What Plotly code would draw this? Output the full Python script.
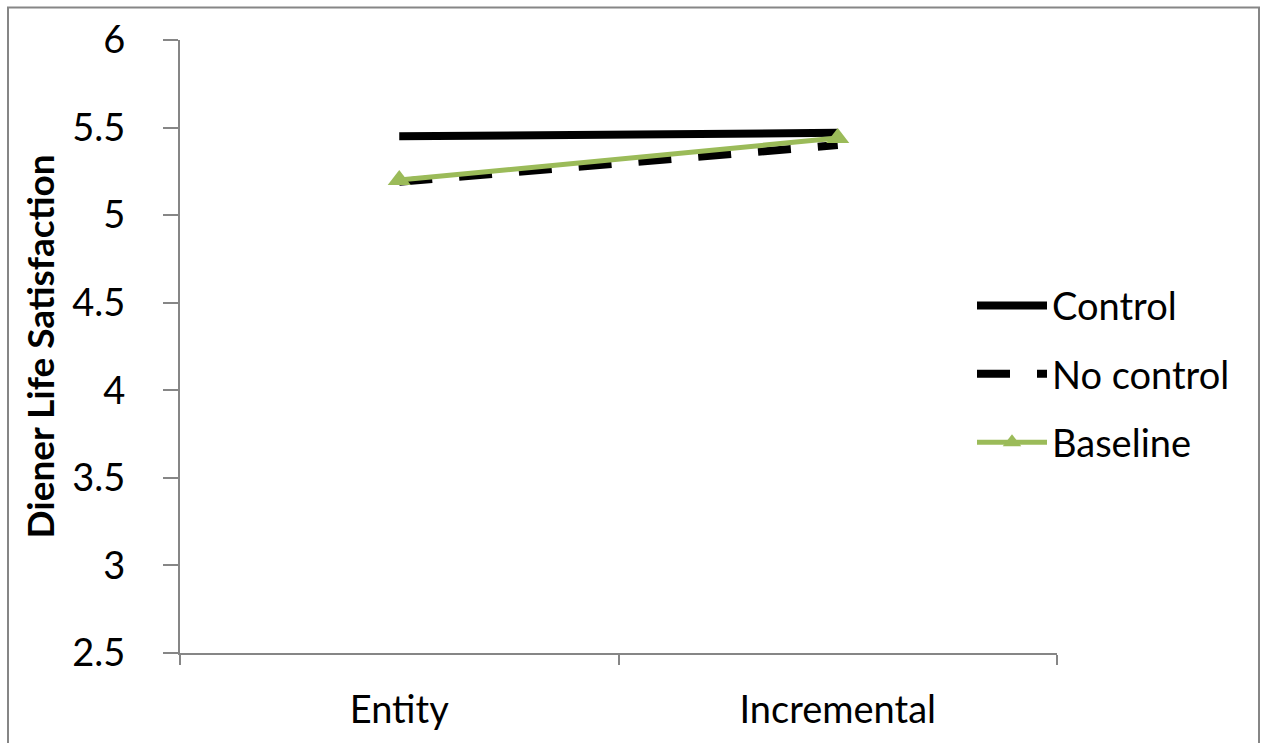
import plotly.graph_objects as go

# Mindset groups on the x axis
categories = ["Entity", "Incremental"]

# Mean Diener life-satisfaction per condition
control = [5.45, 5.47]
no_control = [5.19, 5.40]
baseline = [5.20, 5.44]

y_ticks = [2.5, 3, 3.5, 4, 4.5, 5, 5.5, 6]
y_tick_text = ["2.5", "3", "3.5", "4", "4.5", "5", "5.5", "6"]

W, H = 1262, 743
ML, MR, MT, MB = 180, 205, 40, 80
FONT = "Lato, Open Sans, sans-serif"
AXIS_GREY = "#868686"

fig = go.Figure()
fig.add_trace(go.Scatter(
    x=categories, y=control, name="Control", mode="lines", legendgroup="c",
    line=dict(color="black", width=8),
))
fig.add_trace(go.Scatter(
    x=categories, y=no_control, name="No control", mode="lines", legendgroup="n",
    line=dict(color="black", width=8, dash="33px,27px"),
))
fig.add_trace(go.Scatter(
    x=categories, y=baseline, name="Baseline", mode="lines+markers", legendgroup="b",
    line=dict(color="#9BBB59", width=5),
    marker=dict(symbol="triangle-up", size=20, color="#9BBB59"),
))

# outer chart frame, expressed in paper coordinates of the plot area
pw, ph = W - ML - MR, H - MT - MB
def px_x(p):
    return (p - ML) / pw
def px_y(p):
    return (H - MB - p) / ph

fig.add_shape(
    type="rect", xref="paper", yref="paper",
    x0=px_x(8), x1=px_x(1259), y0=px_y(7), y1=px_y(760),
    line=dict(color=AXIS_GREY, width=2), fillcolor="rgba(0,0,0,0)", layer="below",
)

fig.update_layout(
    width=W, height=H,
    margin=dict(l=ML, r=MR, t=MT, b=MB, pad=0),
    paper_bgcolor="white", plot_bgcolor="white",
    font=dict(family=FONT, size=38, color="black"),
    showlegend=True,
    legend=dict(
        x=px_x(972), y=px_y(278), xanchor="left", yanchor="top",
        font=dict(family=FONT, size=38, color="black"),
        itemwidth=70, bgcolor="rgba(0,0,0,0)",
        tracegroupgap=16, traceorder="grouped",
    ),
    xaxis=dict(
        type="category", range=[-0.5, 1.5],
        showline=True, linecolor=AXIS_GREY, linewidth=2,
        ticks="outside", tickson="boundaries", ticklen=10, tickcolor=AXIS_GREY, tickwidth=2,
        showgrid=False, zeroline=False,
        tickfont=dict(family=FONT, size=38, color="black"),
        ticklabelstandoff=22,
    ),
    yaxis=dict(
        range=[2.5, 6], tickvals=y_ticks, ticktext=y_tick_text,
        showline=True, linecolor=AXIS_GREY, linewidth=2,
        ticks="outside", ticklen=15, tickcolor=AXIS_GREY, tickwidth=2,
        showgrid=False, zeroline=False,
        tickfont=dict(family=FONT, size=38, color="black"),
        ticklabelstandoff=30,
        title=dict(text="<b>Diener Life Satisfaction</b>",
                   font=dict(family=FONT, size=37, color="black"), standoff=6),
    ),
)

fig.write_html("out.html")
